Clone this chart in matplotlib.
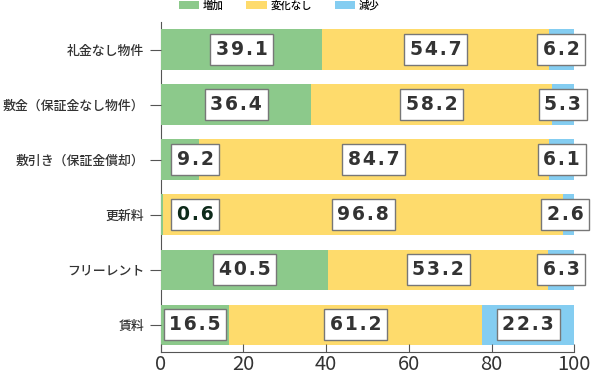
import matplotlib.pyplot as plt
import numpy as np

plt.rcParams['font.family'] = ['Noto Sans CJK JP', 'DejaVu Sans']

categories = ['礼金なし物件', '敷金（保証金なし物件）', '敷引き（保証金償却）', '更新料', 'フリーレント', '賃料']
increase = [39.1, 36.4, 9.2, 0.6, 40.5, 16.5]
unchanged = [54.7, 58.2, 84.7, 96.8, 53.2, 61.2]
decrease = [6.2, 5.3, 6.1, 2.6, 6.3, 22.3]
series_names = ['増加', '変化なし', '減少']
colors = ['#8cc98b', '#fedb6c', '#84cdf1']

fig = plt.figure(figsize=(6, 3.73), dpi=100)
ax = fig.add_axes([0.268, 0.056, 0.689, 0.885])

y = np.arange(len(categories))
left = np.zeros(len(categories))
handles = []
for vals, col, name in zip([increase, unchanged, decrease], colors, series_names):
    vals = np.array(vals)
    b = ax.barh(y, vals, left=left, height=0.73, color=col, label=name)
    handles.append(b)
    for yi, l, v in zip(y, left, vals):
        xc = np.clip(l + v / 2, 8.3, 97.8)
        tc = '#0d2a1a' if v < 1 else '#333333'
        # spread the digits a little, like the original
        txt = '\u200a'.join(f'{v:.1f}')
        ax.text(xc, yi, txt, ha='center', va='center', fontsize=13.5,
                fontweight='bold', color=tc, family='DejaVu Sans',
                bbox=dict(boxstyle='square,pad=0.3', fc='white', ec='#777777', lw=1))
    left += vals

ax.set_ylim(len(categories) - 0.5, -0.5)
ax.set_xlim(0, 100)
ax.set_yticks(y)
ax.set_yticklabels(categories, fontsize=9.3, color='#333333', fontweight='medium')
ax.set_xticks([0, 20, 40, 60, 80, 100])
ax.tick_params(axis='y', direction='out', length=8, color='#555555', pad=4)
ax.tick_params(axis='x', direction='in', length=6, color='#555555', labelsize=14.5,
               labelcolor='#333333', pad=1)
for s in ['top', 'right']:
    ax.spines[s].set_visible(False)
for s in ['left', 'bottom']:
    ax.spines[s].set_color('#555555')
ax.spines['left'].set_zorder(0)

fig.legend(handles=handles, labels=series_names, loc='upper center', bbox_to_anchor=(0.465, 1.025),
           ncol=3, frameon=False, fontsize=7.5, handlelength=2.0, handleheight=0.8,
           columnspacing=2.2, handletextpad=0.3, prop={'weight': 'medium', 'size': 7.5})

fig.savefig('out.png', dpi=100)
